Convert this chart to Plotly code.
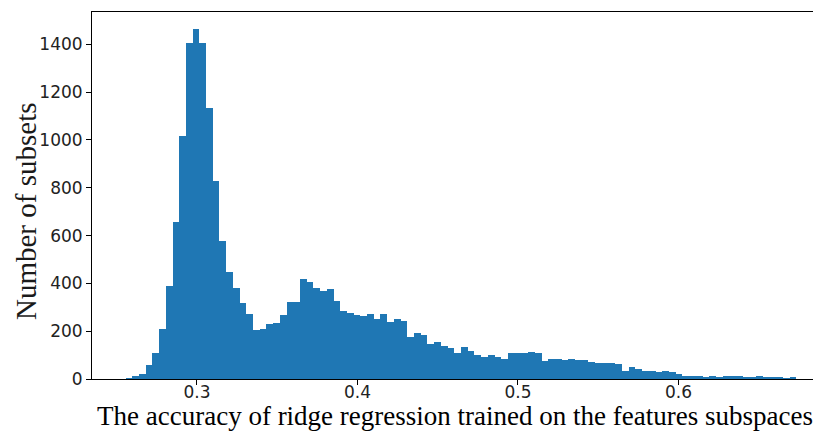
import numpy as np
import plotly.graph_objects as go

# Histogram counts (100 equal-width bins)
counts = [
    4, 11, 22, 57, 107, 209, 390, 655, 1017, 1407,
    1463, 1407, 1135, 830, 577, 447, 379, 318, 271, 205,
    210, 228, 235, 267, 323, 323, 418, 407, 379, 368,
    375, 328, 284, 275, 267, 265, 272, 250, 272, 239,
    249, 244, 175, 193, 182, 148, 153, 138, 131, 107,
    135, 118, 100, 91, 99, 93, 84, 107, 107, 108,
    113, 107, 74, 85, 84, 81, 85, 79, 79, 73,
    65, 68, 68, 62, 33, 51, 40, 35, 33, 28,
    35, 28, 20, 12, 11, 11, 7, 11, 7, 11,
    11, 11, 6, 6, 12, 6, 5, 5, 2, 6,
]
bin_lo = 0.2555
bin_hi = 0.6735
x_ticks = [0.3, 0.4, 0.5, 0.6]
y_ticks = [0, 200, 400, 600, 800, 1000, 1200, 1400]
x_title = "The accuracy of ridge regression trained on the features subspaces"
y_title = "Number of subsets"

edges = np.linspace(bin_lo, bin_hi, len(counts) + 1)
centers = (edges[:-1] + edges[1:]) / 2
width = edges[1] - edges[0]

fig = go.Figure(go.Bar(
    x=centers, y=counts, width=width,
    marker=dict(color="#1f77b4", line=dict(width=0)),
))

# page body has an 8px margin; figure is sized/offset to compensate
W, H = 813, 424
ML, MT, MB = 84, 4, 53
PW = W - ML
PH = H - MT - MB

fig.update_layout(
    width=W, height=H,
    margin=dict(l=ML, r=0, t=MT, b=MB, autoexpand=False),
    paper_bgcolor="white", plot_bgcolor="white",
    bargap=0, showlegend=False,
    font=dict(family="DejaVu Sans", size=17, color="#222"),
    xaxis=dict(
        range=[0.2346, 0.6888], tickvals=x_ticks, ticktext=[f"{v:.1f}" for v in x_ticks],
        showgrid=False, zeroline=False, showline=True, linecolor="black", linewidth=1,
        mirror=True, ticks="outside", ticklen=5, tickcolor="black",
        ticklabelstandoff=-7, automargin=False,
    ),
    yaxis=dict(
        range=[0, 1535], tickvals=y_ticks,
        showgrid=False, zeroline=False, showline=True, linecolor="black", linewidth=1,
        ticks="outside", ticklen=5, tickcolor="black",
        automargin=False,
    ),
    annotations=[
        dict(text=x_title, xref="paper", yref="paper",
             x=(455 - 8 - ML) / PW, y=-(416 - 8 - (MT + PH)) / PH,
             xanchor="center", yanchor="middle", showarrow=False,
             font=dict(family="Liberation Serif", size=27, color="black")),
        dict(text=y_title, xref="paper", yref="paper",
             x=-(ML - (26 - 8)) / PW, y=1 - (212 - 8 - MT) / PH,
             xanchor="center", yanchor="middle", showarrow=False, textangle=-90,
             font=dict(family="Liberation Serif", size=29, color="#1a1a1a")),
    ],
)

fig.write_html("out.html")
